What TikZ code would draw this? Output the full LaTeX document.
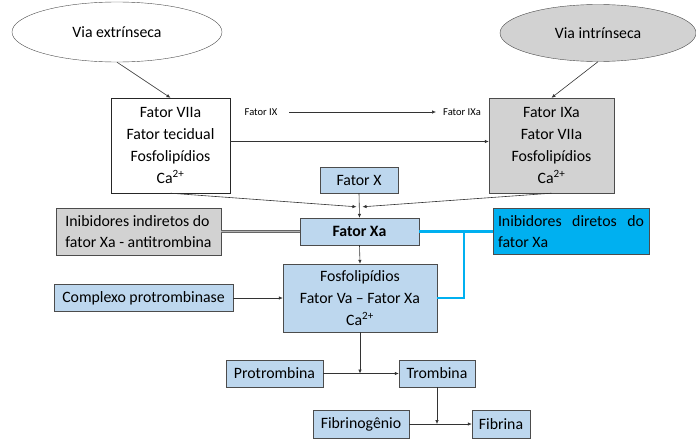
\documentclass[tikz,border=0pt]{standalone}
\usepackage{fontspec}
\setmainfont{Carlito}
\usetikzlibrary{shapes.geometric, arrows.meta, positioning, calc}
\definecolor{azulclaro}{RGB}{189,215,238}
\definecolor{cinza}{RGB}{210,210,210}
\definecolor{ciano}{RGB}{0,176,240}

\begin{document}
\begin{tikzpicture}[x=1pt, y=-1pt,
    txt/.style={font=\fontsize{15.8}{21.7}\selectfont},
    via/.style={ellipse, draw=black!70, txt, inner sep=0pt},
    caixa/.style={rectangle, draw=black!70, txt, inner sep=0pt, align=center},
    azul/.style={caixa, fill=azulclaro},
    seta/.style={-{Latex[length=4pt,width=3.5pt]}, draw=black!80, line width=0.6pt},
    linhaciano/.style={draw=ciano, line width=2.6pt},
    ]

    \useasboundingbox (0,0) rectangle (696,439);

    % vias
    \node[via, minimum width=210pt, minimum height=60pt] (ext) at (117,32) {Via extrínseca};
    \node[via, fill=cinza, minimum width=196pt, minimum height=57pt] (int) at (598,33) {Via intrínseca};

    % complexos tenase
    \node[caixa, draw=black!85, minimum width=119pt, minimum height=95pt] (tenext) at (170.5,145.5)
        {Fator VIIa\\Fator tecidual\\Fosfolipídios\\Ca\textsuperscript{2+}};
    \node[caixa, fill=cinza, minimum width=125pt, minimum height=95pt] (tenint) at (551.5,145.5)
        {Fator IXa\\Fator VIIa\\Fosfolipídios\\Ca\textsuperscript{2+}};

    \node[font=\fontsize{10.5}{12}\selectfont, inner sep=0pt] (f9) at (261,112) {Fator IX};
    \node[font=\fontsize{10.5}{12}\selectfont, inner sep=0pt] (f9a) at (462,112) {Fator IXa};

    % fator X
    \node[azul, minimum width=78pt, minimum height=26pt] (fx) at (359,180) {Fator X};
    \node[azul, font=\fontsize{15.8}{21.7}\selectfont\bfseries, minimum width=119pt, minimum height=27pt] (fxa) at (359.5,231.5) {Fator Xa};

    % inibidores
    \node[caixa, fill=cinza, align=left, minimum width=165pt, minimum height=47pt] (inind) at (138.5,231.5)
        {Inibidores indiretos do\\fator Xa - antitrombina};
    \node[caixa, fill=ciano, align=justify, text width=146pt, inner xsep=5pt, minimum height=46pt] (indir) at (571,231.5)
        {Inibidores diretos do fator Xa};

    % protrombinase
    \node[azul, minimum width=154pt, minimum height=68pt] (fosf) at (360,298)
        {Fosfolipídios\\Fator Va -- Fator Xa\\Ca\textsuperscript{2+}};
    \node[azul, minimum width=179pt, minimum height=27pt] (cpx) at (143.5,298) {Complexo protrombinase};

    % trombina e fibrina
    \node[azul, minimum width=97pt, minimum height=27pt] (ptr) at (274.5,373.5) {Protrombina};
    \node[azul, minimum width=76pt, minimum height=27pt] (trb) at (437,373.5) {Trombina};
    \node[azul, minimum width=96pt, minimum height=28pt] (fbg) at (361,424) {Fibrinogênio};
    \node[azul, minimum width=58pt, minimum height=28pt] (fbn) at (501,424) {Fibrina};

    \coordinate (jxa) at ($(fxa.north)+(0,-11)$);
    \coordinate (ramo) at (464,231.5);

    \draw[seta] (ext.south) -- (tenext.north);
    \draw[seta] (int.south) -- (tenint.north);
    \draw[seta, shorten <=12pt, shorten >=7pt] (f9) -- (f9a);
    \draw[seta] ([yshift=4pt]tenext.east) -- ([yshift=4pt]tenint.west);

    \draw[seta] (tenext.south) -- ([xshift=-3pt]jxa);
    \draw[seta] (tenint.south) -- ([xshift=3pt]jxa);

    \foreach \a/\b in {fx.south/fxa.north, fxa.south/fosf.north, cpx/fosf, ptr/trb, fbg/fbn}
        \draw[seta] (\a) -- (\b);

    \draw[seta] (fosf.south) -- (fosf.south |- ptr);
    \draw[seta] (trb.south) -- (trb.south |- fbn);

    \draw[double, draw=black!60, double=gray!60, double distance=1pt, line width=0.8pt] (inind) -- (fxa);

    \draw[linhaciano] (fxa.east) -- (indir.west);
    \draw[linhaciano] (ramo) |- (fosf.east);

\end{tikzpicture}
\end{document}
